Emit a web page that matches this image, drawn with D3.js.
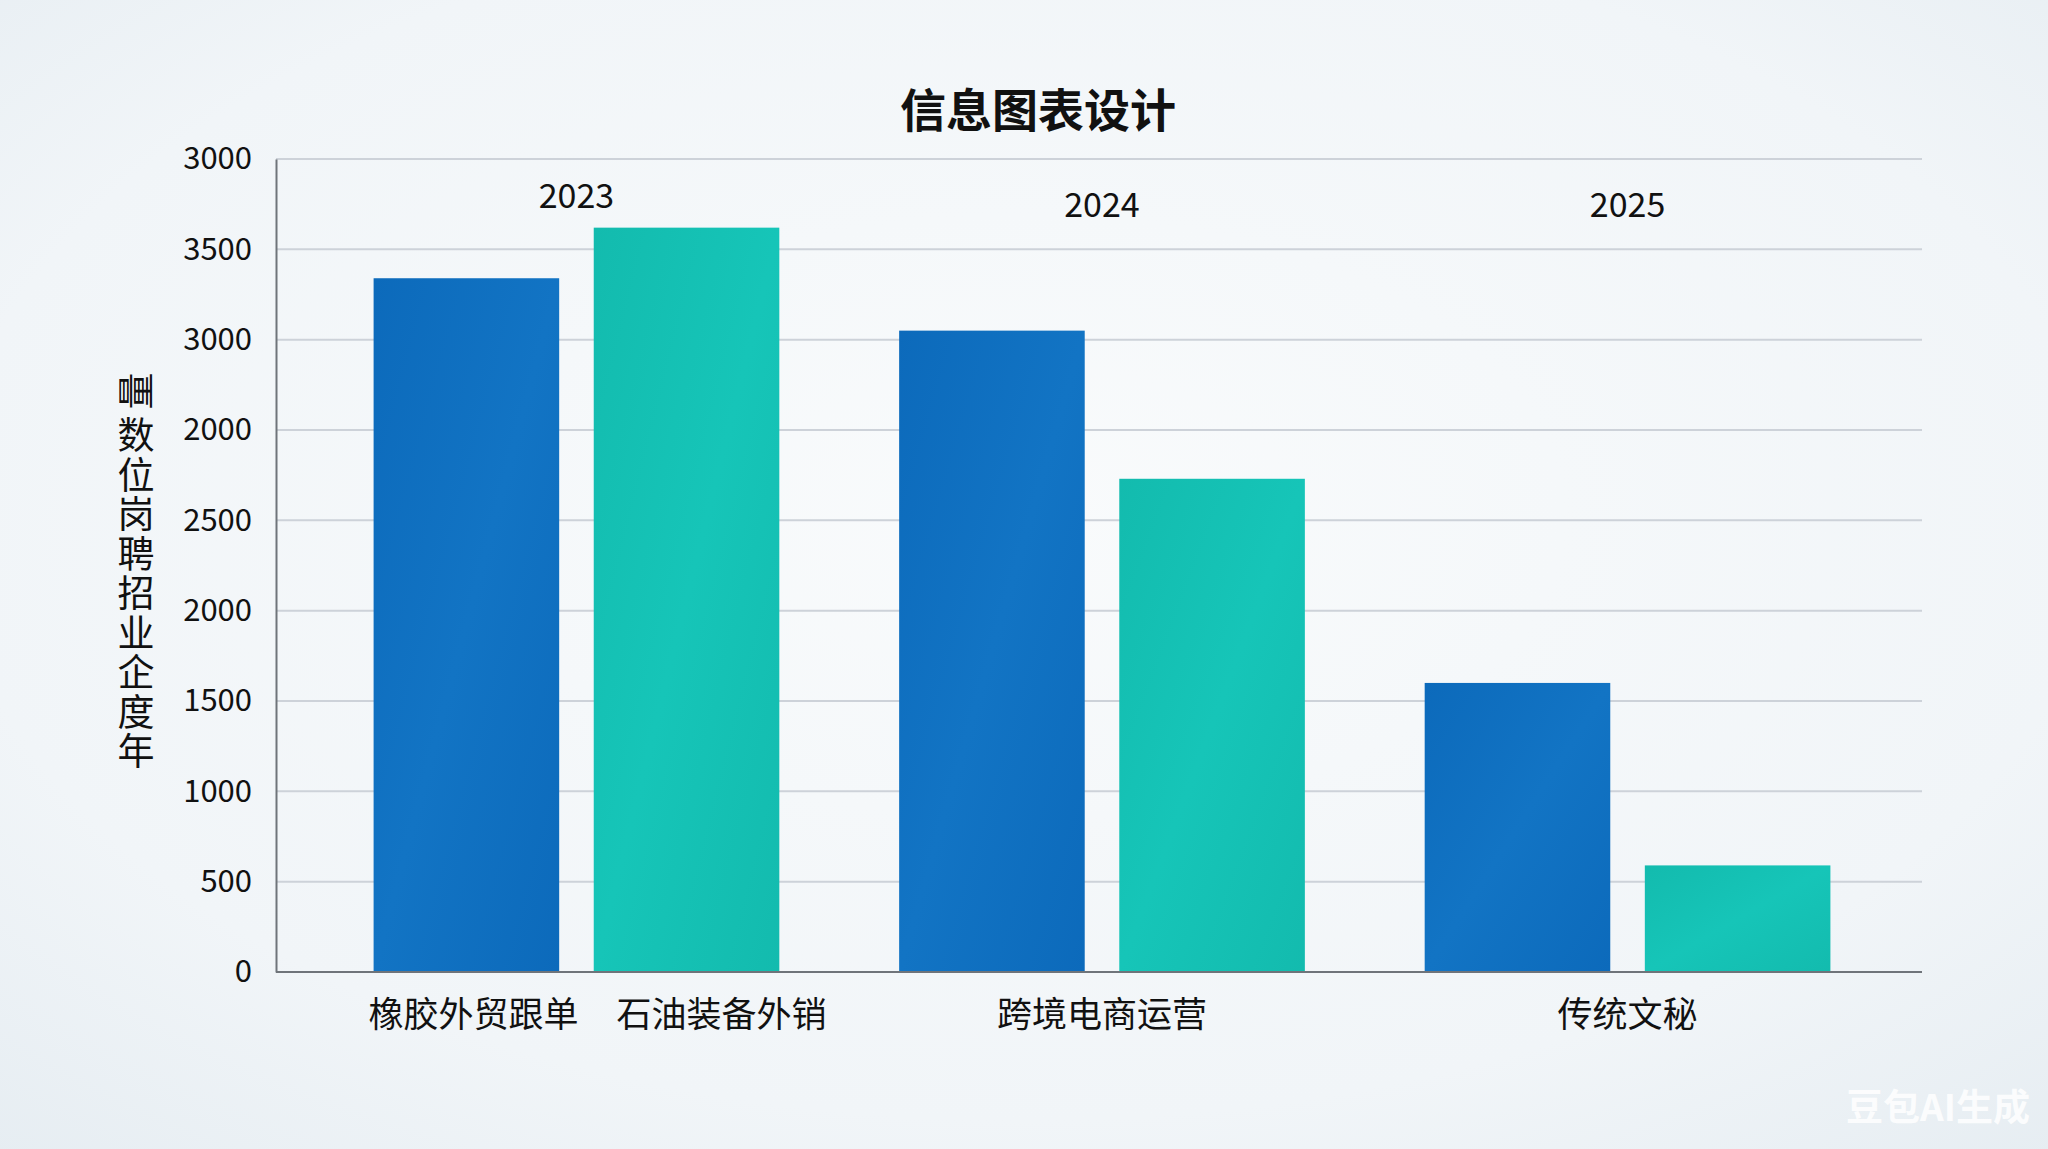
<!DOCTYPE html>
<html>
<head>
<meta charset="utf-8">
<script src="https://cdn.jsdelivr.net/npm/d3@7"></script>
<style>
  html, body { margin: 0; padding: 0; background: #f3f6f9; }
  svg { display: block; }
  text { font-family: "Noto Sans CJK SC", "Noto Sans", sans-serif; }
</style>
</head>
<body>
<svg id="chart"></svg>
<script>
// Chart data
var years = ["2023", "2024", "2025"];
var demandJobs = ["橡胶外贸跟单", "跨境电商运营", "传统文秘"];
var demandValues = [3840, 3550, 1600];
var exportJobs = ["石油装备外销", "", ""];
var exportValues = [4120, 2730, 590];
var tickValues = [0, 500, 1000, 1500, 2000, 2500, 3000, 3500, 4000, 4500];
var tickLabels = ["0", "500", "1000", "1500", "2000", "2500", "2000", "3000", "3500", "3000"];
var axisTitle = "年度企业招聘岗位数量";

var W = 2048, H = 1149;
var margin = {top: 159, right: 126, bottom: 177, left: 276};

var svg = d3.select("#chart").attr("width", W).attr("height", H);
var defs = svg.append("defs");

// background
var bg = defs.append("radialGradient").attr("id", "bg")
  .attr("cx", "50%").attr("cy", "45%").attr("r", "75%");
bg.append("stop").attr("offset", "0%").attr("stop-color", "#f9fbfc");
bg.append("stop").attr("offset", "70%").attr("stop-color", "#f1f5f8");
bg.append("stop").attr("offset", "100%").attr("stop-color", "#e6edf2");
svg.append("rect").attr("width", W).attr("height", H).attr("fill", "url(#bg)");

// bar gradients (kept subtle)
function barGradient(id, c1, c2) {
  var g = defs.append("linearGradient").attr("id", id)
    .attr("x1", "0").attr("y1", "0").attr("x2", "1").attr("y2", "1");
  g.append("stop").attr("offset", "0%").attr("stop-color", c1);
  g.append("stop").attr("offset", "50%").attr("stop-color", c2);
  g.append("stop").attr("offset", "100%").attr("stop-color", c1);
}
barGradient("blueFill", "#0c6abb", "#1274c4");
barGradient("tealFill", "#13bbae", "#16c5b8");

var x0 = d3.scaleBand()
  .domain(years)
  .range([margin.left + 3, W - margin.right + 3])
  .paddingInner(0.228)
  .paddingOuter(0.18);

var x1 = d3.scaleBand()
  .domain([0, 1])
  .range([0, x0.bandwidth()])
  .paddingInner(0.157);

var y = d3.scaleLinear()
  .domain([0, 4500])
  .range([H - margin.bottom, margin.top]);

// grid
svg.append("g")
  .selectAll("line")
  .data(tickValues.slice(1))
  .enter()
  .append("line")
  .attr("x1", margin.left)
  .attr("x2", W - margin.right)
  .attr("y1", d => y(d))
  .attr("y2", d => y(d))
  .attr("stroke", "#cdd2d9")
  .attr("stroke-width", 2);

// y axis
var yAxis = d3.axisLeft(y)
  .tickValues(tickValues)
  .tickSize(0)
  .tickPadding(24)
  .tickFormat((d, i) => tickLabels[i]);
var gy = svg.append("g")
  .attr("transform", "translate(" + margin.left + ",0)")
  .call(yAxis);
gy.select(".domain").attr("stroke", "#6f747a").attr("stroke-width", 2);
gy.selectAll("text")
  .attr("fill", "#111")
  .style("font-size", "31px")
  .style("font-family", "'Noto Sans CJK SC', sans-serif");

// bars
var rows = years.map(function(yr, i) {
  return [
    {year: yr, k: 0, v: demandValues[i], fill: "url(#blueFill)"},
    {year: yr, k: 1, v: exportValues[i], fill: "url(#tealFill)"}
  ];
});

svg.append("g")
  .selectAll("g")
  .data(rows)
  .enter()
  .append("g")
  .attr("transform", d => "translate(" + x0(d[0].year) + ",0)")
  .selectAll("rect")
  .data(d => d)
  .enter()
  .append("rect")
  .attr("x", d => x1(d.k))
  .attr("width", x1.bandwidth())
  .attr("y", d => y(d.v))
  .attr("height", d => y(0) - y(d.v))
  .attr("fill", d => d.fill);

// x baseline
svg.append("line")
  .attr("x1", margin.left)
  .attr("x2", W - margin.right)
  .attr("y1", y(0))
  .attr("y2", y(0))
  .attr("stroke", "#6f747a")
  .attr("stroke-width", 2);

// year labels
svg.append("g")
  .selectAll("text")
  .data(years)
  .enter()
  .append("text")
  .attr("x", d => x0(d) + x0.bandwidth() / 2)
  .attr("y", (d, i) => i === 0 ? 208 : 217)
  .attr("text-anchor", "middle")
  .attr("fill", "#111")
  .style("font-size", "34px")
  .text(d => d);

// category labels
var labelY = y(0) + 55;
years.forEach(function(yr, i) {
  var cx = x0(yr) + x0.bandwidth() / 2;
  if (exportJobs[i]) {
    svg.append("text")
      .attr("x", cx + 2).attr("y", labelY)
      .attr("text-anchor", "end")
      .attr("fill", "#111")
      .style("font-size", "35px")
      .text(demandJobs[i]);
    svg.append("text")
      .attr("x", cx + 40).attr("y", labelY)
      .attr("text-anchor", "start")
      .attr("fill", "#111")
      .style("font-size", "35px")
      .text(exportJobs[i]);
  } else {
    svg.append("text")
      .attr("x", cx).attr("y", labelY)
      .attr("text-anchor", "middle")
      .attr("fill", "#111")
      .style("font-size", "35px")
      .text(demandJobs[i]);
  }
});

// y axis title: one text rotated to read bottom to top,
// glyphs turned back upright (the top one is left sideways, as in the picture)
var fs = 37, step = 39.5;
var n = axisTitle.length;
var rot = d3.range(n).map(i => i === n - 1 ? 0 : 90).join(" ");
var dys = d3.range(n).map(i => i === n - 1 ? fs * 0.88 : 0).join(" ");
svg.append("text")
  .attr("transform", "translate(117.5,765) rotate(-90)")
  .attr("x", 0)
  .attr("y", 0)
  .attr("rotate", rot)
  .attr("dy", dys)
  .attr("fill", "#111")
  .style("font-size", fs + "px")
  .style("letter-spacing", (step - fs) + "px")
  .text(axisTitle);

// title
svg.append("text")
  .attr("x", 1038)
  .attr("y", 127)
  .attr("text-anchor", "middle")
  .attr("fill", "#111")
  .style("font-size", "46px")
  .style("font-weight", "bold")
  .text("信息图表设计");

// watermark
svg.append("text")
  .attr("x", 2030)
  .attr("y", 1121)
  .attr("text-anchor", "end")
  .attr("fill", "#ffffff")
  .attr("opacity", 0.85)
  .style("font-size", "37px")
  .style("font-weight", "bold")
  .text("豆包AI生成");
</script>
</body>
</html>
